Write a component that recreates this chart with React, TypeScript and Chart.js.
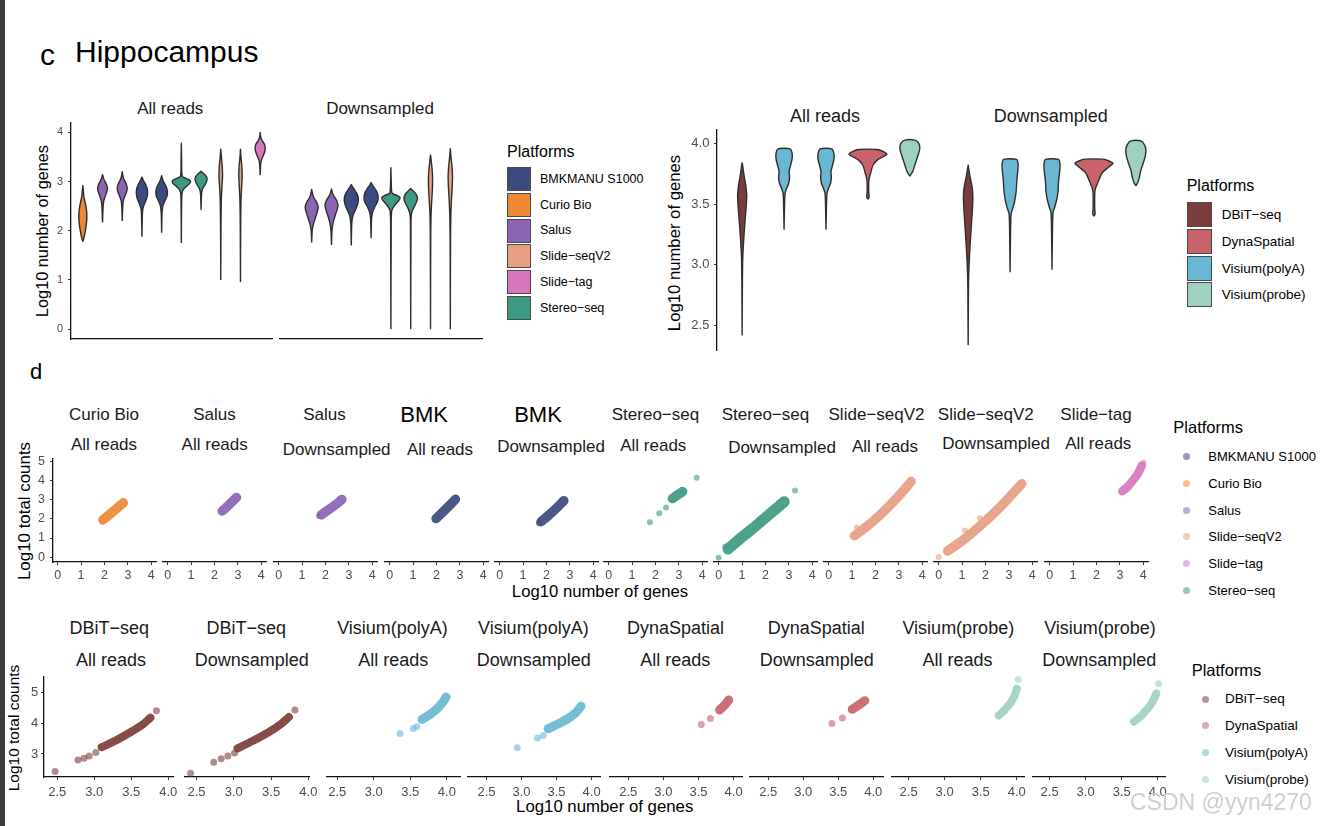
import React, { useEffect, useRef } from 'react';
import { Chart, registerables } from 'chart.js';

Chart.register(...registerables);

const FONT = '"Liberation Sans", Arial, Helvetica, sans-serif';
Chart.defaults.font.family = FONT;

// ---------------- palette ----------------
const PALETTE: Record<string, string> = {
  'BMKMANU S1000': '#3C4B7E',
  'Curio Bio': '#EE8833',
  'Salus': '#8B64B4',
  'Slide-seqV2': '#E89E83',
  'Slide-tag': '#D676BD',
  'Stereo-seq': '#3E9983',
  'DBiT-seq': '#7B3D3B',
  'DynaSpatial': '#C9636A',
  'Visium(polyA)': '#6AB7D3',
  'Visium(probe)': '#9ED0C0',
};

// ---------------- panel c : violins ----------------
const cLeftCategories = ['Curio Bio', 'Salus', 'Salus', 'BMKMANU S1000', 'BMKMANU S1000', 'Stereo-seq', 'Stereo-seq', 'Slide-seqV2', 'Slide-seqV2', 'Slide-tag'];
const cLeftYTicks = [0, 1, 2, 3, 4];
const cLeftLegend = ['BMKMANU S1000', 'Curio Bio', 'Salus', 'Slide-seqV2', 'Slide-tag', 'Stereo-seq'];

// violin profiles: [log10 number of genes, density half-width]
const vAllCurio = [[1.78, 0], [1.86, 1.2], [1.97, 2.3], [2.1, 3.3], [2.25, 4], [2.4, 3.8], [2.53, 2.8], [2.63, 1.7], [2.72, 0.9], [2.82, 0.5], [2.92, 0]];
const vAllSalusA = [[2.17, 0], [2.4, 0.4], [2.55, 0.8], [2.65, 1.8], [2.75, 3.6], [2.85, 5], [2.94, 4], [3.02, 2], [3.08, 0.8], [3.14, 0]];
const vAllSalusB = [[2.2, 0], [2.45, 0.4], [2.6, 1], [2.7, 2.6], [2.8, 4.5], [2.88, 5], [2.97, 3.6], [3.05, 1.6], [3.12, 0.6], [3.2, 0]];
const vAllBmkA = [[1.88, 0], [2.3, 0.4], [2.45, 1], [2.55, 2.6], [2.65, 4.6], [2.75, 5.6], [2.85, 5.3], [2.95, 3.5], [3.02, 1.5], [3.09, 0]];
const vAllBmkB = [[1.96, 0], [2.35, 0.4], [2.5, 1.2], [2.6, 3.1], [2.7, 5.3], [2.8, 5.8], [2.9, 4.5], [2.99, 2.1], [3.06, 0.8], [3.12, 0]];
const vAllStereoA = [[1.75, 0], [2.6, 0.3], [2.78, 0.8], [2.85, 2.5], [2.92, 6], [2.98, 9], [3.03, 8.3], [3.07, 4], [3.11, 0.8], [3.4, 0.3], [3.78, 0]];
const vAllStereoB = [[2.42, 0], [2.75, 0.5], [2.85, 1.5], [2.92, 3.5], [3.0, 5.5], [3.07, 6], [3.13, 4.2], [3.18, 1.6], [3.21, 0]];
const vAllSlideA = [[1.0, 0], [2.0, 0.2], [2.6, 0.5], [2.9, 1.2], [3.1, 1.8], [3.3, 1.5], [3.45, 0.8], [3.56, 0.4], [3.66, 0]];
const vAllSlideB = [[0.96, 0], [2.0, 0.2], [2.6, 0.5], [2.9, 1.2], [3.1, 1.7], [3.3, 1.4], [3.45, 0.7], [3.56, 0.3], [3.66, 0]];
const vAllTag = [[3.13, 0], [3.35, 0.5], [3.45, 1.5], [3.55, 3.6], [3.65, 5], [3.75, 4.5], [3.83, 2], [3.9, 0.6], [4.0, 0]];

const vDsSalusA = [[1.76, 0], [2.0, 0.5], [2.12, 1.5], [2.25, 3.5], [2.38, 5.5], [2.48, 6.5], [2.58, 5], [2.66, 2.5], [2.74, 1], [2.84, 0]];
const vDsSalusB = [[1.71, 0], [2.0, 0.5], [2.15, 1.5], [2.3, 3.5], [2.42, 5.5], [2.52, 6.5], [2.62, 5], [2.7, 2.5], [2.77, 1], [2.85, 0]];
const vDsBmkA = [[1.7, 0], [2.15, 0.5], [2.3, 1.5], [2.42, 4], [2.55, 6.5], [2.66, 7], [2.76, 5.5], [2.84, 3], [2.9, 1], [2.94, 0]];
const vDsBmkB = [[1.85, 0], [2.25, 0.5], [2.38, 1.5], [2.5, 4], [2.6, 6.5], [2.7, 7], [2.8, 5.5], [2.88, 3], [2.94, 1], [2.98, 0]];
const vDsStereoA = [[0, 0], [2.2, 0.3], [2.4, 0.8], [2.48, 2.5], [2.56, 5.5], [2.63, 8.5], [2.68, 9], [2.72, 6], [2.75, 2], [2.79, 0.8], [3.0, 0.3], [3.28, 0]];
const vDsStereoB = [[0, 0], [2.2, 0.3], [2.35, 0.8], [2.45, 2.5], [2.55, 5], [2.65, 6.8], [2.74, 5.5], [2.8, 3], [2.84, 1], [2.86, 0]];
const vDsSlideA = [[0, 0], [1.8, 0.2], [2.3, 0.5], [2.6, 1.2], [2.85, 1.9], [3.05, 2.1], [3.25, 1.6], [3.4, 0.8], [3.48, 0.4], [3.54, 0]];
const vDsSlideB = [[0, 0], [1.8, 0.2], [2.3, 0.5], [2.65, 1.2], [2.9, 1.9], [3.1, 2.2], [3.3, 1.7], [3.45, 0.9], [3.57, 0.4], [3.67, 0]];

const cLeftAllViolins: [number, number[][]][] = [[0, vAllCurio], [1, vAllSalusA], [2, vAllSalusB], [3, vAllBmkA], [4, vAllBmkB], [5, vAllStereoA], [6, vAllStereoB], [7, vAllSlideA], [8, vAllSlideB], [9, vAllTag]];
const cLeftDsViolins: [number, number[][]][] = [[1, vDsSalusA], [2, vDsSalusB], [3, vDsBmkA], [4, vDsBmkB], [5, vDsStereoA], [6, vDsStereoB], [7, vDsSlideA], [8, vDsSlideB]];

const cRightCategories = ['DBiT-seq', 'Visium(polyA)', 'Visium(polyA)', 'DynaSpatial', 'Visium(probe)'];
const cRightYTicks = [2.5, 3.0, 3.5, 4.0];
const cRightYLabels = ['2.5', '3.0', '3.5', '4.0'];
const cRightLegend = ['DBiT-seq', 'DynaSpatial', 'Visium(polyA)', 'Visium(probe)'];

const vRAllDbit = [[2.42, 0], [2.9, 0.3], [3.05, 0.6], [3.2, 1.5], [3.35, 2.8], [3.5, 4.2], [3.58, 4.5], [3.66, 3.5], [3.74, 1.8], [3.8, 0.8], [3.84, 0]];
const vRAllPolyA = [[3.29, 0], [3.5, 0.5], [3.59, 1], [3.63, 2.5], [3.67, 4.5], [3.72, 5.5], [3.77, 5], [3.82, 6.5], [3.87, 8], [3.92, 8], [3.955, 6]];
const vRAllPolyB = [[3.29, 0], [3.5, 0.5], [3.59, 1], [3.63, 2.5], [3.67, 4.5], [3.72, 5.3], [3.77, 5], [3.82, 6.5], [3.87, 8], [3.92, 7.8], [3.955, 5.8]];
const vRAllDyna = [[3.54, 0], [3.56, 1.2], [3.6, 0.8], [3.68, 0.8], [3.72, 1.5], [3.75, 2.5], [3.78, 3.5], [3.82, 5], [3.86, 9], [3.89, 15], [3.91, 19], [3.935, 15], [3.95, 9]];
const vRAllProbe = [[3.73, 0], [3.75, 1.5], [3.77, 3], [3.81, 4.5], [3.86, 6.5], [3.91, 8.5], [3.96, 10], [4.0, 9], [4.027, 5]];

const vRDsDbit = [[2.34, 0], [2.8, 0.3], [2.93, 0.6], [3.1, 1.5], [3.3, 3], [3.45, 4.2], [3.56, 4.7], [3.64, 4], [3.72, 2], [3.78, 0.8], [3.82, 0]];
const vRDsPolyA = [[2.94, 0], [3.3, 0.5], [3.42, 1], [3.46, 2.5], [3.52, 4.5], [3.6, 6], [3.66, 6.5], [3.72, 7], [3.78, 7.8], [3.83, 8], [3.868, 6.5]];
const vRDsPolyB = [[2.96, 0], [3.3, 0.5], [3.43, 1], [3.47, 2.5], [3.53, 4.5], [3.6, 6], [3.66, 6.3], [3.72, 7], [3.78, 7.8], [3.83, 8], [3.868, 6.5]];
const vRDsDyna = [[3.4, 0], [3.42, 1.2], [3.46, 0.8], [3.6, 0.9], [3.64, 2], [3.68, 4], [3.72, 6], [3.76, 8.5], [3.8, 14], [3.835, 19], [3.855, 15], [3.87, 9]];
const vRDsProbe = [[3.65, 0], [3.68, 2], [3.72, 3.5], [3.78, 5], [3.84, 7.5], [3.9, 9.5], [3.95, 10], [3.99, 8.5], [4.02, 5]];

const cRightAllViolins: [number, number[][]][] = [[0, vRAllDbit], [1, vRAllPolyA], [2, vRAllPolyB], [3, vRAllDyna], [4, vRAllProbe]];
const cRightDsViolins: [number, number[][]][] = [[0, vRDsDbit], [1, vRDsPolyA], [2, vRDsPolyB], [3, vRDsDyna], [4, vRDsProbe]];

// ---------------- panel d : scatter ----------------
const d1XTicks = [0, 1, 2, 3, 4];
const d1YTicks = [0, 1, 2, 3, 4, 5];
const d1Platforms = ['Curio Bio', 'Salus', 'Salus', 'BMKMANU S1000', 'BMKMANU S1000', 'Stereo-seq', 'Stereo-seq', 'Slide-seqV2', 'Slide-seqV2', 'Slide-tag'];
const d1TitleTop = ['Curio Bio', 'Salus', 'Salus', 'BMK', 'BMK', 'Stereo−seq', 'Stereo−seq', 'Slide−seqV2', 'Slide−seqV2', 'Slide−tag'];
const d1TitleBottom = ['All reads', 'All reads', 'Downsampled', 'All reads', 'Downsampled', 'All reads', 'Downsampled', 'All reads', 'Downsampled', 'All reads'];
const d1Legend = ['BMKMANU S1000', 'Curio Bio', 'Salus', 'Slide-seqV2', 'Slide-tag', 'Stereo-seq'];

// dense cores (drawn as a band through their centre) and sparse cells: [log10 genes, log10 counts]
const d1CurioAllBand = [[1.93, 1.95], [2.2, 2.22], [2.5, 2.53], [2.8, 2.85]];
const d1CurioAllPts: number[][] = [];
const d1SalusAllBand = [[2.33, 2.42], [2.5, 2.6], [2.7, 2.84], [2.94, 3.13]];
const d1SalusAllPts: number[][] = [];
const d1SalusDsBand = [[1.82, 2.22], [2.1, 2.46], [2.4, 2.72], [2.7, 3.02]];
const d1SalusDsPts = [[1.72, 2.15]];
const d1BmkAllBand = [[1.98, 2.02], [2.3, 2.4], [2.6, 2.77], [2.81, 3.04]];
const d1BmkAllPts: number[][] = [];
const d1BmkDsBand = [[1.77, 1.86], [2.1, 2.2], [2.45, 2.6], [2.74, 2.96]];
const d1BmkDsPts = [[1.68, 1.78]];
const d1StereoAllBand = [[2.72, 3.07], [2.95, 3.27], [3.16, 3.44]];
const d1StereoAllPts = [[1.76, 1.83], [2.16, 2.3], [2.45, 2.6], [3.76, 4.17]];
const d1StereoDsBand = [[0.4, 0.42], [1.0, 1.05], [1.6, 1.65], [2.2, 2.28], [2.8, 2.9]];
const d1StereoDsPts = [[0.0, -0.04], [0.28, 0.55], [3.26, 3.49]];
const d1SlideAllBand = [[1.1, 1.12], [1.6, 1.58], [2.1, 2.1], [2.6, 2.7], [3.1, 3.35], [3.52, 3.97]];
const d1SlideAllPts = [[1.2, 1.55]];
const d1SlideDsBand = [[0.38, 0.32], [1.0, 0.85], [1.5, 1.35], [2.05, 1.95], [2.6, 2.6], [3.1, 3.25], [3.55, 3.85]];
const d1SlideDsPts = [[0.0, 0.0], [1.12, 1.4], [1.75, 2.05]];
const d1TagAllBand = [[3.1, 3.45], [3.35, 3.72], [3.6, 4.1], [3.8, 4.45], [3.93, 4.8]];
const d1TagAllPts = [[4.0, 4.95]];

const d1Bands = [d1CurioAllBand, d1SalusAllBand, d1SalusDsBand, d1BmkAllBand, d1BmkDsBand, d1StereoAllBand, d1StereoDsBand, d1SlideAllBand, d1SlideDsBand, d1TagAllBand];
const d1Points = [d1CurioAllPts, d1SalusAllPts, d1SalusDsPts, d1BmkAllPts, d1BmkDsPts, d1StereoAllPts, d1StereoDsPts, d1SlideAllPts, d1SlideDsPts, d1TagAllPts];

const d2XTicks = [2.5, 3.0, 3.5, 4.0];
const d2XLabels = ['2.5', '3.0', '3.5', '4.0'];
const d2YTicks = [3, 4, 5];
const d2Platforms = ['DBiT-seq', 'DBiT-seq', 'Visium(polyA)', 'Visium(polyA)', 'DynaSpatial', 'DynaSpatial', 'Visium(probe)', 'Visium(probe)'];
const d2TitleTop = ['DBiT−seq', 'DBiT−seq', 'Visium(polyA)', 'Visium(polyA)', 'DynaSpatial', 'DynaSpatial', 'Visium(probe)', 'Visium(probe)'];
const d2TitleBottom = ['All reads', 'Downsampled', 'All reads', 'Downsampled', 'All reads', 'Downsampled', 'All reads', 'Downsampled'];
const d2Legend = ['DBiT-seq', 'DynaSpatial', 'Visium(polyA)', 'Visium(probe)'];

const d2DbitAllBand = [[3.1, 3.22], [3.3, 3.45], [3.5, 3.72], [3.65, 3.95], [3.76, 4.18]];
const d2DbitAllPts = [[2.47, 2.43], [2.78, 2.8], [2.86, 2.86], [2.93, 2.93], [3.02, 3.05], [3.84, 4.4]];
const d2DbitDsBand = [[3.05, 3.18], [3.25, 3.42], [3.45, 3.68], [3.62, 3.95], [3.74, 4.2]];
const d2DbitDsPts = [[2.42, 2.37], [2.73, 2.73], [2.83, 2.84], [2.92, 2.93], [3.01, 3.03], [3.82, 4.43]];
const d2PolyAllBand = [[3.66, 4.12], [3.78, 4.3], [3.88, 4.5], [3.95, 4.7], [3.99, 4.85]];
const d2PolyAllPts = [[3.36, 3.66], [3.54, 3.83], [3.59, 3.88]];
const d2PolyDsBand = [[3.38, 3.82], [3.52, 3.97], [3.65, 4.13], [3.77, 4.33], [3.85, 4.55]];
const d2PolyDsPts = [[2.94, 3.2], [3.23, 3.52], [3.31, 3.6]];
const d2DynaAllBand = [[3.8, 4.43], [3.87, 4.58], [3.93, 4.75]];
const d2DynaAllPts = [[3.54, 3.96], [3.67, 4.15]];
const d2DynaDsBand = [[3.7, 4.45], [3.8, 4.6], [3.88, 4.73]];
const d2DynaDsPts = [[3.41, 3.99], [3.56, 4.17]];
const d2ProbeAllBand = [[3.75, 4.25], [3.84, 4.45], [3.92, 4.68], [3.97, 4.9], [4.0, 5.12]];
const d2ProbeAllPts = [[4.02, 5.42]];
const d2ProbeDsBand = [[3.67, 4.05], [3.77, 4.24], [3.87, 4.5], [3.94, 4.75], [3.98, 4.97]];
const d2ProbeDsPts = [[4.01, 5.28]];

const d2Bands = [d2DbitAllBand, d2DbitDsBand, d2PolyAllBand, d2PolyDsBand, d2DynaAllBand, d2DynaDsBand, d2ProbeAllBand, d2ProbeDsBand];
const d2Points = [d2DbitAllPts, d2DbitDsPts, d2PolyAllPts, d2PolyDsPts, d2DynaAllPts, d2DynaDsPts, d2ProbeAllPts, d2ProbeDsPts];

// ---------------- layout (pixels) ----------------
const d1Tick0 = [58, 168, 279, 390, 500, 609, 719, 829, 939, 1050];
const d1TopX = [104, 214.5, 324.5, 424.2, 538, 655.5, 765.5, 876.5, 985.8, 1096];
const d1BotX = [104, 214.7, 336.7, 440, 551, 653.3, 782, 885, 996, 1098.3];
const d1BotY = [450.7, 450.7, 455.5, 455, 452.5, 451.7, 453.3, 452, 449, 449];
const d1BandW = [9.5, 9.5, 9.5, 9.5, 9.5, 9.5, 11, 9.5, 9.5, 8.5];
const d2Areas = [[44, 173, 2.32, 4.064], [185, 311.7, 2.345, 4.02], [326.7, 460, 2.36, 4.18], [468.3, 600, 2.237, 4.12], [610, 741.7, 2.24, 4.12], [750, 883.3, 2.24, 4.14], [891.7, 1024, 2.27, 4.1], [1033.3, 1165.7, 2.27, 4.1]];
const d2TopX = [109.2, 246.3, 392.5, 533.3, 675.5, 816.3, 958.3, 1100];
const d2BotX = [111, 251.7, 393.3, 533.8, 675.3, 816.7, 957.5, 1099.2];
const d2BandW = [8, 8, 9, 9, 9, 9, 8, 8];

const disp = (s: string) => s.replace(/-/g, '\u2212');
function rgba(hex: string, a: number) {
  const n = parseInt(hex.slice(1), 16);
  return `rgba(${(n >> 16) & 255},${(n >> 8) & 255},${n & 255},${a})`;
}

function violin(profile: number[][], pos: number, color: string, pxPerCat: number) {
  const left = profile.map(([y, w]) => ({ x: pos - w / pxPerCat, y }));
  const right = [...profile].reverse().map(([y, w]) => ({ x: pos + w / pxPerCat, y }));
  return {
    data: [...left, ...right],
    showLine: true,
    fill: 'shape',
    backgroundColor: color,
    borderColor: '#2E2E2E',
    borderWidth: 1.4,
    borderJoinStyle: 'round',
    pointRadius: 0,
    tension: 0.25,
    clip: false,
  };
}

function scatterSets(platform: string, band: number[][], pts: number[][], bw: number, r: number) {
  const c = PALETTE[platform];
  return [
    {
      data: pts.map(([x, y]) => ({ x, y })),
      showLine: false,
      pointRadius: r,
      pointBackgroundColor: rgba(c, 0.6),
      pointBorderWidth: 0,
      pointBorderColor: 'rgba(0,0,0,0)',
      clip: false,
    },
    {
      data: band.map(([x, y]) => ({ x, y })),
      showLine: true,
      fill: false,
      borderColor: rgba(c, 0.92),
      borderWidth: bw,
      borderCapStyle: 'round',
      borderJoinStyle: 'round',
      pointRadius: 0,
      tension: 0.35,
      clip: false,
    },
  ];
}

interface AxisSpec { min: number; max: number; ticks?: number[]; labels?: string[]; line?: boolean; fs?: number; pad?: number }
interface PanelSpec { area: number[]; mL: number; mB: number; mT: number; mR: number; x: AxisSpec; y: AxisSpec; datasets: () => any[] }

function makeConfig(spec: PanelSpec): any {
  const { mL, mB, mT, mR } = spec;
  const scale = (ax: AxisSpec, isX: boolean) => {
    const has = !!ax.ticks;
    const s: any = {
      type: 'linear',
      min: ax.min,
      max: ax.max,
      display: true,
      offset: false,
      afterFit: (sc: any) => {
        if (isX) sc.height = mB;
        else sc.width = mL;
      },
      ticks: {
        display: has,
        autoSkip: false,
        maxRotation: 0,
        minRotation: 0,
        padding: ax.pad ?? 3,
        color: '#4D4D4D',
        font: { family: FONT, size: ax.fs ?? 12.5 },
        callback: (v: any, i: number) => (ax.labels ? ax.labels[i] : String(v)),
      },
      grid: { display: has, drawOnChartArea: false, drawTicks: true, tickLength: 3, color: '#333333', lineWidth: 1 },
      border: { display: !!ax.line, color: '#111111', width: 1.3 },
    };
    if (has) {
      s.afterBuildTicks = (sc: any) => {
        sc.ticks = (ax.ticks as number[]).map((v) => ({ value: v }));
      };
    }
    return s;
  };
  return {
    type: 'line',
    data: { datasets: spec.datasets() },
    options: {
      animation: false,
      responsive: false,
      maintainAspectRatio: false,
      events: [],
      layout: { padding: { left: 0, right: mR, top: mT, bottom: 0 } },
      plugins: { legend: { display: false }, tooltip: { enabled: false }, title: { display: false } },
      scales: { x: scale(spec.x, true), y: scale(spec.y, false) },
    },
  };
}

function ChartCanvas({ spec }: { spec: PanelSpec }) {
  const ref = useRef<HTMLCanvasElement>(null);
  const { area, mL, mB, mT, mR } = spec;
  const left = area[0] - mL;
  const top = area[1] - mT;
  const width = Math.round(area[2] - area[0] + mL + mR);
  const height = Math.round(area[3] - area[1] + mT + mB);
  useEffect(() => {
    const chart = new Chart(ref.current as HTMLCanvasElement, makeConfig(spec));
    return () => chart.destroy();
  }, []);
  return <canvas ref={ref} width={width} height={height} style={{ position: 'absolute', left, top, width, height }} />;
}

// ---------------- panel specs ----------------
const panels: PanelSpec[] = [];
const noAxis = (min: number, max: number): AxisSpec => ({ min, max, line: false });

// c left
const cLeftYAxis: AxisSpec = { min: -0.2, max: 4.19, ticks: cLeftYTicks, labels: cLeftYTicks.map(String), line: true, fs: 11, pad: 5 };
panels.push({
  area: [70.7, 123, 271.7, 339.3], mL: 30, mB: 14, mT: 14, mR: 4,
  x: { min: -0.6, max: 9.6, line: true }, y: cLeftYAxis,
  datasets: () => cLeftAllViolins.map(([p, prof]) => violin(prof, p, PALETTE[cLeftCategories[p]], 19.8)),
});
panels.push({
  area: [280, 123, 481.7, 339.3], mL: 4, mB: 6, mT: 6, mR: 4,
  x: { min: -0.6, max: 9.6, line: true }, y: noAxis(-0.2, 4.19),
  datasets: () => cLeftDsViolins.map(([p, prof]) => violin(prof, p, PALETTE[cLeftCategories[p]], 19.8)),
});
// c right
panels.push({
  area: [716.6, 130, 934.5, 350], mL: 34, mB: 14, mT: 14, mR: 4,
  x: noAxis(-0.6, 4.6), y: { min: 2.3, max: 4.11, ticks: cRightYTicks, labels: cRightYLabels, line: true, fs: 13, pad: 4.6 },
  datasets: () => cRightAllViolins.map(([p, prof]) => violin(prof, p, PALETTE[cRightCategories[p]], 41.9)),
});
panels.push({
  area: [943.2, 130, 1161, 350], mL: 4, mB: 4, mT: 6, mR: 4,
  x: noAxis(-0.6, 4.6), y: noAxis(2.3, 4.11),
  datasets: () => cRightDsViolins.map(([p, prof]) => violin(prof, p, PALETTE[cRightCategories[p]], 41.9)),
});
// d row 1
d1Tick0.forEach((t0, k) => {
  panels.push({
    area: [t0 - 0.2 * 23.3, 459, t0 + 4.2 * 23.3, 562], mL: k === 0 ? 28 : 6, mB: 24, mT: k === 0 ? 14 : 6, mR: 6,
    x: { min: -0.2, max: 4.2, ticks: d1XTicks, labels: d1XTicks.map(String), line: true, fs: 12.5, pad: 2.8 },
    y: k === 0 ? { min: -0.26, max: 5.15, ticks: d1YTicks, labels: d1YTicks.map(String), line: true, fs: 12.5, pad: 5 } : noAxis(-0.26, 5.15),
    datasets: () => scatterSets(d1Platforms[k], d1Bands[k], d1Points[k], d1BandW[k], 3),
  });
});
// d row 2
d2Areas.forEach(([l, r, mn, mx], k) => {
  panels.push({
    area: [l, 677, r, 777], mL: k === 0 ? 28 : 6, mB: 26, mT: k === 0 ? 14 : 6, mR: 10,
    x: { min: mn, max: mx, ticks: d2XTicks, labels: d2XLabels, line: true, fs: 13, pad: 4.5 },
    y: k === 0 ? { min: 2.25, max: 5.5, ticks: d2YTicks, labels: d2YTicks.map(String), line: true, fs: 13, pad: 2.7 } : noAxis(2.25, 5.5),
    datasets: () => scatterSets(d2Platforms[k], d2Bands[k], d2Points[k], d2BandW[k], 3.5),
  });
});

// ---------------- text helpers ----------------
function Txt({ x, y, fs, children, align = 'center', color = '#1A1A1A' }: any) {
  return (
    <div
      style={{
        position: 'absolute', left: x, top: y - 0.8465 * fs, fontSize: fs, lineHeight: `${fs}px`,
        fontFamily: FONT, color, whiteSpace: 'nowrap', transform: align === 'center' ? 'translateX(-50%)' : undefined,
      }}
    >
      {children}
    </div>
  );
}
function VTxt({ x, y, fs, children, color = '#000' }: any) {
  return (
    <div
      style={{
        position: 'absolute', left: x, top: y, fontSize: fs, lineHeight: `${fs}px`, fontFamily: FONT, color,
        whiteSpace: 'nowrap', transform: 'translate(-50%,-50%) rotate(-90deg)',
      }}
    >
      {children}
    </div>
  );
}

function BoxLegend({ x, items, titleBase, boxTop, pitch, box, labelX, fs, titleFs }: any) {
  return (
    <>
      <Txt x={x} y={titleBase} fs={titleFs} align="left" color="#000">Platforms</Txt>
      {items.map((it: string, i: number) => (
        <React.Fragment key={it}>
          <div style={{ position: 'absolute', left: x, top: boxTop + i * pitch, width: box, height: box, boxSizing: 'border-box', background: PALETTE[it], border: '1.3px solid #4A4A4A' }} />
          <Txt x={labelX} y={boxTop + i * pitch + box / 2 + fs * 0.36} fs={fs} align="left" color="#000">{disp(it)}</Txt>
        </React.Fragment>
      ))}
    </>
  );
}
function DotLegend({ x, titleBase, items, dotX, dotY, pitch, labelX, fs }: any) {
  return (
    <>
      <Txt x={x} y={titleBase} fs={16.5} align="left" color="#000">Platforms</Txt>
      {items.map((it: string, i: number) => (
        <React.Fragment key={it}>
          <div style={{ position: 'absolute', left: dotX - 3.5, top: dotY + i * pitch - 3.5, width: 7, height: 7, borderRadius: '50%', background: rgba(PALETTE[it], 0.55) }} />
          <Txt x={labelX} y={dotY + i * pitch + fs * 0.36} fs={fs} align="left" color="#000">{disp(it)}</Txt>
        </React.Fragment>
      ))}
    </>
  );
}

export default function App() {
  return (
    <div style={{ position: 'absolute', left: 0, top: 0, width: 1326, height: 826, background: '#fff', overflow: 'hidden', fontFamily: FONT }}>
      <div style={{ position: 'absolute', left: 0, top: 0, width: 5, height: 826, background: '#3b3b3b' }} />

      {/* panel c */}
      <Txt x={40} y={65} fs={30} align="left" color="#000">c</Txt>
      <Txt x={75} y={62} fs={30} align="left" color="#000">Hippocampus</Txt>
      <Txt x={170.3} y={114.5} fs={17}>All reads</Txt>
      <Txt x={380} y={114.5} fs={17}>Downsampled</Txt>
      <VTxt x={41.8} y={231} fs={16.3}>Log10 number of genes</VTxt>
      <BoxLegend x={507} titleBase={158} titleFs={16} items={cLeftLegend} boxTop={166.7} pitch={25.9} box={24} labelX={540} fs={12.5} />

      <Txt x={825} y={122.5} fs={18}>All reads</Txt>
      <Txt x={1050.8} y={122.5} fs={18}>Downsampled</Txt>
      <VTxt x={675.2} y={243} fs={16.7}>Log10 number of genes</VTxt>
      <BoxLegend x={1186.7} titleBase={191.5} titleFs={16} items={cRightLegend} boxTop={202.3} pitch={26.7} box={25} labelX={1221.7} fs={13.5} />

      {/* panel d */}
      <Txt x={30} y={380} fs={22} align="left" color="#000">d</Txt>
      {d1TitleTop.map((t, k) => (
        <Txt key={'t1' + k} x={d1TopX[k]} y={t === 'BMK' ? 423 : 420.5} fs={t === 'BMK' ? 22 : 17} color={t === 'BMK' ? '#000' : '#1A1A1A'}>{t}</Txt>
      ))}
      {d1TitleBottom.map((t, k) => (
        <Txt key={'b1' + k} x={d1BotX[k]} y={d1BotY[k]} fs={17}>{t}</Txt>
      ))}
      <VTxt x={25.2} y={511} fs={16.9}>Log10 total counts</VTxt>
      <Txt x={600} y={598.5} fs={16.7} color="#000">Log10 number of genes</Txt>
      <DotLegend x={1173.3} titleBase={433} items={d1Legend} dotX={1186.7} dotY={456.7} pitch={26.7} labelX={1208.3} fs={13} />

      {d2TitleTop.map((t, k) => (
        <Txt key={'t2' + k} x={d2TopX[k]} y={634.7} fs={18}>{t}</Txt>
      ))}
      {d2TitleBottom.map((t, k) => (
        <Txt key={'b2' + k} x={d2BotX[k]} y={666} fs={18}>{t}</Txt>
      ))}
      <VTxt x={14} y={728} fs={15.5}>Log10 total counts</VTxt>
      <Txt x={604.7} y={813.7} fs={16.8} color="#000">Log10 number of genes</Txt>
      <DotLegend x={1191.7} titleBase={675.7} items={d2Legend} dotX={1205} dotY={699} pitch={26.7} labelX={1225} fs={13.5} />

      {panels.map((p, i) => (
        <ChartCanvas key={i} spec={p} />
      ))}

      <Txt x={1130} y={810} fs={23} align="left" color="#cfcfcf">CSDN @yyn4270</Txt>
    </div>
  );
}
